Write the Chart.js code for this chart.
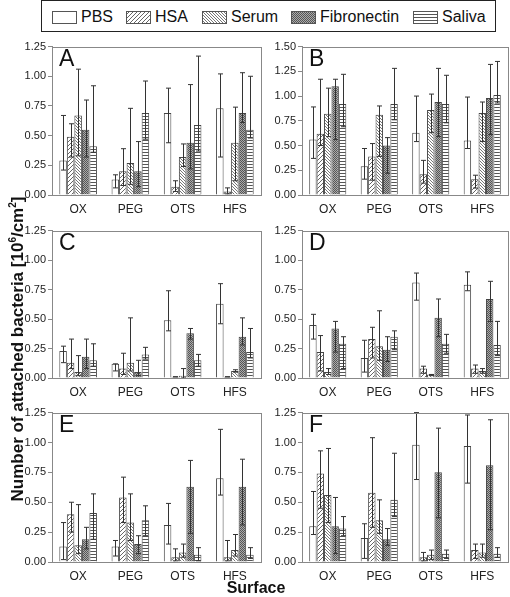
<!DOCTYPE html>
<html>
<head>
<meta charset="utf-8">
<script src="https://cdn.jsdelivr.net/npm/chart.js@4"></script>
<style>
  body { margin: 0; background: #fff; font-family: "Liberation Sans", Arial, sans-serif; }
  #page { position: relative; width: 510px; height: 597px; overflow: hidden; }
  .panel { position: absolute; }
  #legend { position: absolute; left: 41px; top: 0px; width: 453px; height: 30px; border: 1.5px solid #222; }
  .item { position: absolute; top: 6px; height: 20px; font-size: 16px; color: #111; line-height: 20px; }
  .item canvas { position: absolute; left: 0; top: 4px; }
  .item span { position: absolute; left: 29px; top: 0; white-space: nowrap; }
  #ytitle { position: absolute; left: -182px; top: 339px; width: 400px; height: 20px; line-height: 20px;
            text-align: center; transform: rotate(-90deg); transform-origin: 50% 50%;
            font-weight: bold; font-size: 17px; white-space: nowrap; color: #111; }
  #ytitle sup { font-size: 10px; line-height: 0; }
  #xtitle { position: absolute; left: 156px; top: 578px; width: 200px; height: 20px; line-height: 20px;
            text-align: center; font-weight: bold; font-size: 16px; color: #111; }
</style>
</head>
<body>
<div id="page">
  <div id="legend"></div>
  <div class="panel" style="left:0px;top:38px;width:263px;height:180px"><canvas id="cA"></canvas></div>
  <div class="panel" style="left:252px;top:38px;width:258px;height:180px"><canvas id="cB"></canvas></div>
  <div class="panel" style="left:0px;top:222px;width:263px;height:179px"><canvas id="cC"></canvas></div>
  <div class="panel" style="left:252px;top:222px;width:258px;height:179px"><canvas id="cD"></canvas></div>
  <div class="panel" style="left:0px;top:404px;width:263px;height:181px"><canvas id="cE"></canvas></div>
  <div class="panel" style="left:252px;top:404px;width:258px;height:181px"><canvas id="cF"></canvas></div>
  <div id="ytitle">Number of attached bacteria [10<sup>6</sup>/cm<sup>2</sup>]</div>
  <div id="xtitle">Surface</div>
</div>
<script>
const surfaces = ["OX", "PEG", "OTS", "HFS"];
const coatings = ["PBS", "HSA", "Serum", "Fibronectin", "Saliva"];

// rows: PBS, HSA, Serum, Fibronectin, Saliva; columns: OX, PEG, OTS, HFS
const A_mean = [[0.29, 0.13, 0.69, 0.73], [0.49, 0.20, 0.07, 0.03], [0.67, 0.27, 0.32, 0.44], [0.55, 0.20, 0.44, 0.69], [0.41, 0.69, 0.59, 0.55]];
const A_lo   = [[0.21, 0.06, 0.44, 0.32], [0.32, 0.08, 0.03, 0.01], [0.33, 0.09, 0.24, 0.12], [0.32, 0.07, 0.22, 0.61], [0.36, 0.47, 0.37, 0.48]];
const A_hi   = [[0.67, 0.17, 0.90, 1.02], [0.60, 0.39, 0.12, 0.06], [1.06, 0.73, 0.43, 0.74], [0.80, 0.45, 0.93, 1.03], [0.92, 0.96, 1.17, 1.00]];

const B_mean = [[0.56, 0.29, 0.63, 0.55], [0.62, 0.39, 0.21, 0.16], [0.82, 0.81, 0.86, 0.83], [1.10, 0.50, 0.94, 0.98], [0.92, 0.92, 0.92, 1.01]];
const B_lo   = [[0.37, 0.16, 0.54, 0.47], [0.50, 0.15, 0.12, 0.07], [0.59, 0.39, 0.63, 0.54], [0.56, 0.22, 0.59, 0.61], [0.69, 0.76, 0.73, 0.93]];
const B_hi   = [[0.89, 0.47, 1.00, 0.99], [1.17, 0.52, 0.35, 0.20], [1.08, 0.90, 1.02, 0.94], [1.17, 0.58, 1.28, 1.32], [1.22, 1.28, 1.21, 1.35]];

const C_mean = [[0.23, 0.12, 0.49, 0.63], [0.13, 0.08, 0.01, 0.01], [0.05, 0.13, 0.02, 0.06], [0.18, 0.05, 0.38, 0.35], [0.15, 0.20, 0.15, 0.22]];
const C_lo   = [[0.13, 0.06, 0.40, 0.46], [0.08, 0.03, 0.01, 0.01], [0.02, 0.06, 0.00, 0.05], [0.08, 0.02, 0.33, 0.28], [0.10, 0.16, 0.10, 0.17]];
const C_hi   = [[0.27, 0.12, 0.74, 0.80], [0.33, 0.21, 0.01, 0.01], [0.19, 0.51, 0.08, 0.07], [0.33, 0.15, 0.42, 0.51], [0.29, 0.26, 0.20, 0.42]];

const D_mean = [[0.45, 0.17, 0.81, 0.79], [0.22, 0.33, 0.08, 0.08], [0.05, 0.27, 0.03, 0.06], [0.42, 0.24, 0.51, 0.67], [0.29, 0.35, 0.29, 0.28]];
const D_lo   = [[0.33, 0.05, 0.66, 0.74], [0.06, 0.17, 0.04, 0.04], [0.03, 0.15, 0.02, 0.04], [0.22, 0.14, 0.35, 0.48], [0.08, 0.24, 0.21, 0.19]];
const D_hi   = [[0.54, 0.32, 0.89, 0.90], [0.36, 0.43, 0.10, 0.11], [0.08, 0.57, 0.03, 0.08], [0.48, 0.35, 0.67, 0.82], [0.35, 0.40, 0.37, 0.48]];

const E_mean = [[0.13, 0.13, 0.31, 0.70], [0.40, 0.54, 0.04, 0.04], [0.14, 0.33, 0.08, 0.10], [0.19, 0.15, 0.63, 0.63], [0.41, 0.35, 0.06, 0.06]];
const E_lo   = [[0.02, 0.05, 0.15, 0.56], [0.25, 0.33, 0.01, 0.01], [0.07, 0.18, 0.04, 0.05], [0.11, 0.07, 0.24, 0.31], [0.19, 0.22, 0.01, 0.03]];
const E_hi   = [[0.33, 0.18, 0.49, 1.11], [0.50, 0.71, 0.11, 0.18], [0.48, 0.57, 0.15, 0.23], [0.29, 0.22, 0.85, 0.86], [0.57, 0.47, 0.12, 0.12]];

const F_mean = [[0.30, 0.20, 0.98, 0.97], [0.74, 0.58, 0.04, 0.10], [0.56, 0.35, 0.06, 0.08], [0.30, 0.19, 0.75, 0.81], [0.28, 0.52, 0.07, 0.07]];
const F_lo   = [[0.23, 0.03, 0.69, 0.66], [0.45, 0.29, 0.01, 0.03], [0.33, 0.24, 0.02, 0.04], [0.07, 0.14, 0.37, 0.27], [0.22, 0.38, 0.03, 0.04]];
const F_hi   = [[0.59, 0.32, 1.25, 1.23], [0.93, 1.04, 0.08, 0.15], [0.95, 0.52, 0.10, 0.15], [0.54, 0.28, 1.12, 1.19], [0.38, 0.91, 0.10, 0.12]];

const yMaxSmall = 1.25;
const yMaxLarge = 1.5;

// hatch fills
function makePattern(kind) {
  const c = document.createElement("canvas");
  const ctx = c.getContext("2d");
  if (kind === "PBS") {
    c.width = 4; c.height = 4;
    ctx.fillStyle = "#fff"; ctx.fillRect(0, 0, 4, 4);
  } else if (kind === "HSA") {
    c.width = 4; c.height = 4;
    ctx.fillStyle = "#fff"; ctx.fillRect(0, 0, 4, 4);
    ctx.fillStyle = "#666";
    for (let i = 0; i < 4; i++) ctx.fillRect(i, 3 - i, 1, 1);
  } else if (kind === "Serum") {
    c.width = 3; c.height = 3;
    ctx.fillStyle = "#fff"; ctx.fillRect(0, 0, 3, 3);
    ctx.fillStyle = "#777";
    for (let i = 0; i < 3; i++) ctx.fillRect(i, i, 1, 1);
  } else if (kind === "Fibronectin") {
    c.width = 2; c.height = 2;
    ctx.fillStyle = "#aaa"; ctx.fillRect(0, 0, 2, 2);
    ctx.fillStyle = "#555";
    ctx.fillRect(0, 0, 1, 1); ctx.fillRect(1, 1, 1, 1);
  } else {
    c.width = 3; c.height = 3;
    ctx.fillStyle = "#fff"; ctx.fillRect(0, 0, 3, 3);
    ctx.fillStyle = "#555"; ctx.fillRect(0, 0, 3, 1);
  }
  return ctx.createPattern(c, "repeat");
}
const fills = coatings.map(makePattern);

// legend
const legendX = [10, 84, 160, 249, 371];
const legend = document.getElementById("legend");
coatings.forEach((name, i) => {
  const d = document.createElement("div");
  d.className = "item";
  d.style.left = legendX[i] + "px";
  const sw = document.createElement("canvas");
  sw.width = 25; sw.height = 13;
  const sctx = sw.getContext("2d");
  sctx.fillStyle = fills[i];
  sctx.fillRect(0, 0, 25, 13);
  sctx.strokeStyle = "#555";
  sctx.strokeRect(0.5, 0.5, 24, 12);
  const t = document.createElement("span");
  t.textContent = name;
  d.appendChild(sw); d.appendChild(t);
  legend.appendChild(d);
});

// frame round plot area, panel letter and error bars
const panelExtras = {
  id: "panelExtras",
  afterDatasetsDraw(chart, args, opts) {
    const ctx = chart.ctx;
    const y = chart.scales.y;
    ctx.save();
    ctx.strokeStyle = "#333";
    ctx.lineWidth = 1;
    chart.data.datasets.forEach((ds, di) => {
      const meta = chart.getDatasetMeta(di);
      meta.data.forEach((bar, i) => {
        const x = Math.round(bar.x) + 0.5;
        const y1 = y.getPixelForValue(opts.lo[di][i]);
        const y2 = y.getPixelForValue(opts.hi[di][i]);
        ctx.beginPath();
        ctx.moveTo(x, y1); ctx.lineTo(x, y2);
        ctx.moveTo(x - 2.5, y1); ctx.lineTo(x + 2.5, y1);
        ctx.moveTo(x - 2.5, y2); ctx.lineTo(x + 2.5, y2);
        ctx.stroke();
      });
    });
    const a = chart.chartArea;
    ctx.strokeStyle = "#888";
    ctx.strokeRect(Math.round(a.left) + 0.5, Math.round(a.top) + 0.5, Math.round(a.right - a.left), Math.round(a.bottom - a.top));
    ctx.fillStyle = "#111";
    ctx.font = "23px 'Liberation Sans', Arial, sans-serif";
    ctx.textBaseline = "top";
    ctx.fillText(opts.letter, a.left + 7, a.top + 2);
    ctx.restore();
  }
};

function makePanel(id, letter, mean, lo, hi, yMax, yAxisWidth) {
  new Chart(document.getElementById(id), {
    type: "bar",
    data: {
      labels: surfaces,
      datasets: coatings.map((name, i) => ({
        label: name,
        data: mean[i],
        backgroundColor: fills[i],
        borderColor: "#444",
        borderWidth: 1,
        categoryPercentage: 0.72,
        barPercentage: 1.0
      }))
    },
    options: {
      responsive: true,
      maintainAspectRatio: false,
      animation: false,
      layout: { padding: { top: 8, right: 2, left: 0, bottom: 0 } },
      plugins: {
        legend: { display: false },
        tooltip: { enabled: false },
        panelExtras: { letter: letter, lo: lo, hi: hi }
      },
      scales: {
        x: {
          grid: { display: false, drawTicks: false },
          border: { display: true, color: "#888" },
          ticks: { color: "#222", padding: 7, font: { size: 12, family: "'Liberation Sans', Arial" } },
          afterFit(s) { s.height = 23; }
        },
        y: {
          min: 0,
          max: yMax,
          grid: { display: true, drawOnChartArea: false, tickLength: 4, color: "#888" },
          border: { display: true, color: "#888" },
          ticks: {
            stepSize: 0.25,
            color: "#222",
            padding: 2,
            font: { size: 11, family: "'Liberation Sans', Arial" },
            callback: v => v.toFixed(2)
          },
          afterFit(s) { s.width = yAxisWidth; }
        }
      }
    },
    plugins: [panelExtras]
  });
}

makePanel("cA", "A", A_mean, A_lo, A_hi, yMaxSmall, 52);
makePanel("cB", "B", B_mean, B_lo, B_hi, yMaxLarge, 50);
makePanel("cC", "C", C_mean, C_lo, C_hi, yMaxSmall, 52);
makePanel("cD", "D", D_mean, D_lo, D_hi, yMaxSmall, 50);
makePanel("cE", "E", E_mean, E_lo, E_hi, yMaxSmall, 52);
makePanel("cF", "F", F_mean, F_lo, F_hi, yMaxSmall, 50);
</script>
</body>
</html>
